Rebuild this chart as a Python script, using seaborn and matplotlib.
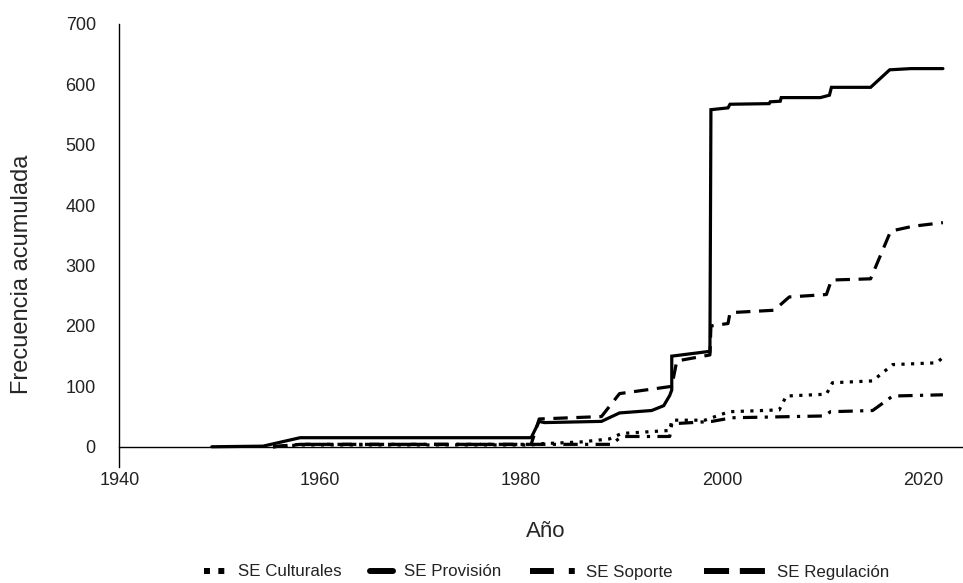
import numpy as np
import pandas as pd
import matplotlib.pyplot as plt
from matplotlib.lines import Line2D
import seaborn as sns

# series (año, frecuencia acumulada)
series = ['SE Culturales', 'SE Provisión', 'SE Soporte', 'SE Regulación']

cult_anio = [1955.3, 1958.0, 1981.0, 1982.0, 1986.0, 1988.8, 1990.0, 1994.8, 1995.0, 1998.3,
             2000.7, 2005.7, 2006.4, 2010.4, 2011.0, 2015.0, 2017.0, 2021.4, 2022.0]
cult_val = [0, 3, 3, 5, 8, 13, 22, 27, 44, 44, 58, 61, 84, 87, 106, 109, 136, 139, 148]

prov_anio = [1949.2, 1954.3, 1958.0, 1981.0, 1981.8, 1982.3, 1988.0, 1989.8, 1993.0, 1994.2,
             1994.8, 1995.0, 1995.0, 1998.8, 1998.9, 2000.6, 2000.8, 2004.7, 2004.8, 2005.8,
             2005.9, 2009.8, 2010.7, 2010.9, 2014.8, 2016.7, 2018.8, 2022.0]
prov_val = [0, 1, 15, 15, 42, 40, 42, 56, 60, 68, 85, 94, 150, 158, 558, 561, 567, 568, 571,
            572, 578, 578, 582, 595, 595, 624, 626, 626]

sop_anio = [1955.3, 1958.0, 1981.0, 1989.0, 1990.0, 1994.8, 1995.0, 1999.0, 2001.0, 2010.2,
            2010.8, 2015.0, 2017.0, 2022.0]
sop_val = [0, 4, 4, 4, 17, 17, 38, 42, 48, 51, 58, 60, 84, 86]

reg_anio = [1955.3, 1958.0, 1981.0, 1981.8, 1988.0, 1989.8, 1995.0, 1995.5, 1998.8, 1998.9,
            2000.6, 2000.8, 2005.2, 2006.7, 2010.4, 2010.9, 2014.8, 2016.8, 2019.0, 2022.0]
reg_val = [0, 4, 4, 46, 50, 88, 100, 142, 152, 200, 204, 222, 226, 248, 252, 276, 278, 357,
           365, 371]

datos = []
for nombre, xs, ys in zip(series, [cult_anio, prov_anio, sop_anio, reg_anio],
                          [cult_val, prov_val, sop_val, reg_val]):
    datos.append(pd.DataFrame({'anio': xs, 'frec': ys, 'serie': nombre}))
df = pd.concat(datos, ignore_index=True)

estilos = {
    'SE Culturales': (1, 2),
    'SE Provisión': '',
    'SE Soporte': (4.5, 2.3, 1, 2.3),
    'SE Regulación': (4.5, 2.7),
}

# leyenda: cada entrada con su propio largo de muestra (como en el original)
ley_x = [204, 370, 530, 704]
ley_largo = [1.36, 1.36, 2.66, 3.67]
ley_dash = [(1, 1.4), None, (4, 2.5, 1, 2.5), (4.2, 1.8)]

sns.set_style('white')
plt.rcParams['font.family'] = ['Liberation Sans', 'DejaVu Sans']
plt.rcParams['text.color'] = '#222222'
plt.rcParams['xtick.color'] = '#000000'
plt.rcParams['ytick.color'] = '#000000'
plt.rcParams['xtick.labelcolor'] = '#222222'
plt.rcParams['ytick.labelcolor'] = '#222222'

fig = plt.figure(figsize=(9.63, 5.83), dpi=100)
ax = fig.add_axes([0.124, 0.1995, 0.876, 0.7595])

sns.lineplot(data=df, x='anio', y='frec', hue='serie', style='serie',
             hue_order=series, style_order=series, palette=['black'] * 4,
             dashes=estilos, estimator=None, sort=False, linewidth=2.3,
             ax=ax, legend=False)

for ln in ax.get_lines():
    ln.set_dash_capstyle('butt')
    ln.set_solid_joinstyle('miter')

ax.set_xlim(1940, 2024)
ax.set_ylim(-33, 700)
ax.set_xticks([1940, 1960, 1980, 2000, 2020])
ax.set_yticks(np.arange(0, 701, 100))
ax.spines['top'].set_visible(False)
ax.spines['right'].set_visible(False)
ax.spines['bottom'].set_position(('data', 0))
for s in ['left', 'bottom']:
    ax.spines[s].set_color('black')
    ax.spines[s].set_linewidth(1.0)
ax.tick_params(axis='y', length=14, width=1.2, labelsize=13, pad=3)
ax.tick_params(axis='x', length=10, width=1.2, labelsize=13, pad=8)

ax.set_xlabel('Año', fontsize=16)
ax.set_ylabel('Frecuencia acumulada', fontsize=17)
ax.xaxis.set_label_coords((546 - 119.5) / (963 * 0.876), -(521 - 466.7) / (583 * 0.7595))
ax.yaxis.set_label_coords(-(119.5 - 33) / (963 * 0.876), 0.435)

for nombre, x0, largo, dash in zip(series, ley_x, ley_largo, ley_dash):
    if dash is None:
        h = Line2D([], [], color='black', linewidth=4.3, linestyle='-')
    else:
        h = Line2D([], [], color='black', linewidth=4.3, linestyle=(0, dash),
                   dash_capstyle='butt')
    fig.legend([h], [nombre], loc='center left', bbox_to_anchor=(x0 / 963, 1 - 572 / 583),
               frameon=False, fontsize=12.2, handlelength=largo, handletextpad=0.65,
               borderpad=0, borderaxespad=0)

fig.savefig('out.png', dpi=100)
